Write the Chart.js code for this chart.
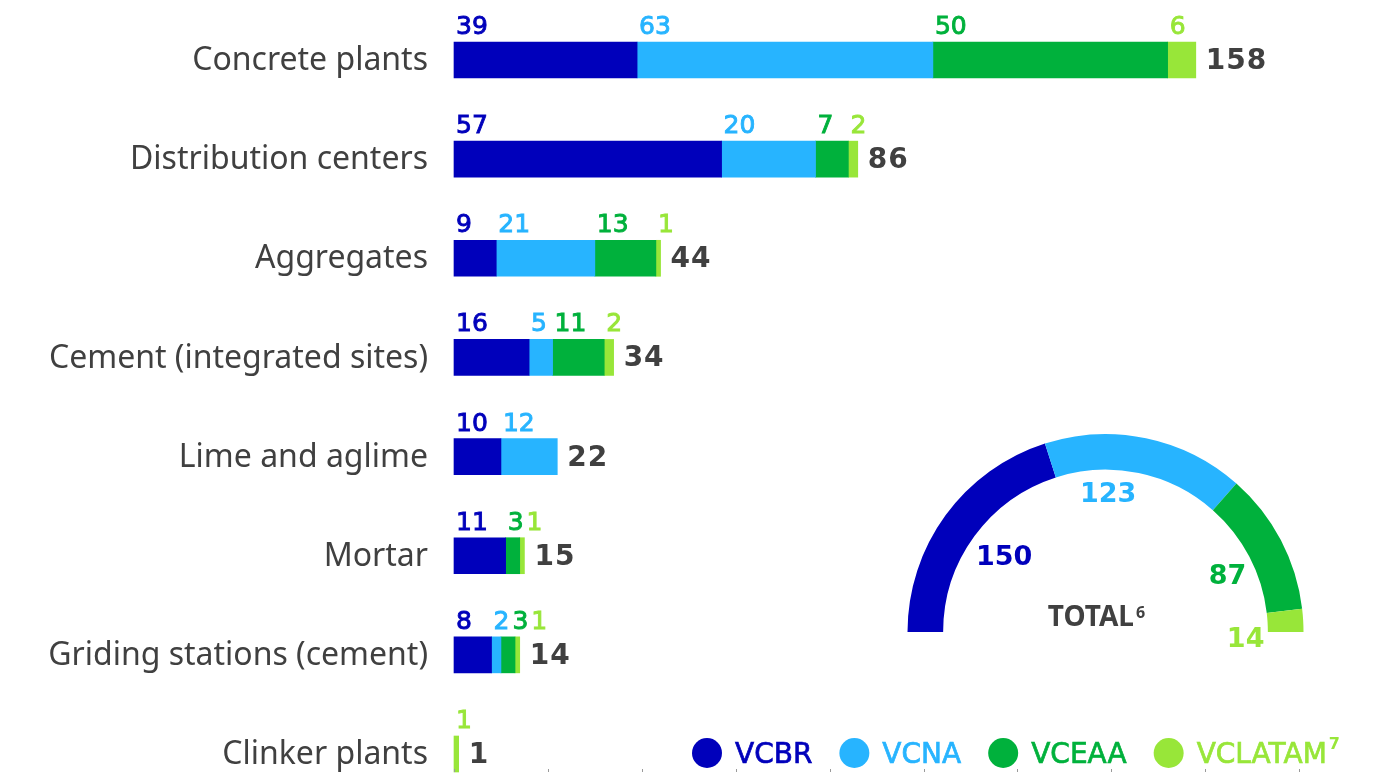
<!DOCTYPE html>
<html>
<head>
<meta charset="utf-8">
<script src="https://cdn.jsdelivr.net/npm/chart.js@4.4.1/dist/chart.umd.min.js"></script>
<style>
  html, body { margin: 0; padding: 0; background: #fff; overflow: hidden; }
  #wrap { position: relative; width: 1393px; height: 775px; }
  #barChart { position: absolute; left: 0; top: 0; }
  #totalChart { position: absolute; left: 660px; top: 413px; }
</style>
</head>
<body>
<div id="wrap">
  <canvas id="barChart" width="1393" height="775"></canvas>
  <canvas id="totalChart" width="733" height="362"></canvas>
</div>
<script>
// units per business line and region
const categories = [
    'Concrete plants',
    'Distribution centers',
    'Aggregates',
    'Cement (integrated sites)',
    'Lime and aglime',
    'Mortar',
    'Griding stations (cement)',
    'Clinker plants'
];
const regions = ['VCBR', 'VCNA', 'VCEAA', 'VCLATAM'];
const regionNotes = ['', '', '', '7'];

const vcbr    = [39, 57, 9, 16, 10, 11, 8, 0];
const vcna    = [63, 20, 21, 5, 12, 0, 2, 0];
const vceaa   = [50, 7, 13, 11, 0, 3, 3, 0];
const vclatam = [6, 2, 1, 2, 0, 1, 1, 1];

const regionTotals = [150, 123, 87, 14];
const totalTitle = 'TOTAL';
const totalNote = '6';

const xTicks = [0, 20, 40, 60, 80, 100, 120, 140, 160, 180, 200];

const colors = ['#0000bb', '#27b4ff', '#00b13c', '#98e639'];
const textGrey = '#404040';
const numFont = '"DejaVu Sans", sans-serif';

Chart.defaults.font.family = '"Noto Sans", sans-serif';
Chart.defaults.animation = false;

// value above each segment + total at the end of the row
const segmentLabels = {
    id: 'segmentLabels',
    afterDatasetsDraw(chart) {
        const ctx = chart.ctx;
        ctx.save();
        ctx.textAlign = 'left';
        ctx.textBaseline = 'alphabetic';
        ctx.lineWidth = 0.9;
        categories.forEach((_, i) => {
            let lastEnd = -Infinity;
            let stackEnd = 0;
            let rowY = 0;
            let total = 0;
            ctx.font = '25px ' + numFont;
            chart.data.datasets.forEach((ds, d) => {
                const v = ds.data[i];
                const bar = chart.getDatasetMeta(d).data[i];
                const p = bar.getProps(['x', 'y', 'base', 'height'], true);
                stackEnd = Math.max(stackEnd, p.x);
                rowY = p.y;
                total += v;
                if (!v) return;
                const txt = String(v);
                const tx = Math.max(p.base + 2, lastEnd + 3);
                const ty = p.y - p.height / 2 - 8;
                ctx.fillStyle = colors[d];
                ctx.strokeStyle = colors[d];
                ctx.fillText(txt, tx, ty);
                ctx.strokeText(txt, tx, ty);
                lastEnd = tx + ctx.measureText(txt).width;
            });
            ctx.font = 'bold 28px ' + numFont;
            ctx.fillStyle = textGrey;
            ctx.letterSpacing = '1px';
            ctx.fillText(String(total), stackEnd + 10, rowY + 9);
            ctx.letterSpacing = '0px';
        });

        // tiny tick marks under the last row
        const x = chart.scales.x;
        const yBase = chart.scales.y.getPixelForValue(categories.length - 1) + 15;
        ctx.strokeStyle = '#9a9a9a';
        ctx.lineWidth = 1;
        xTicks.forEach(t => {
            const px = Math.round(x.getPixelForValue(t)) + 0.5;
            ctx.beginPath();
            ctx.moveTo(px, yBase);
            ctx.lineTo(px, yBase + 3);
            ctx.stroke();
        });
        ctx.restore();
    }
};

new Chart(document.getElementById('barChart'), {
    type: 'bar',
    data: {
        labels: categories,
        datasets: [vcbr, vcna, vceaa, vclatam].map((values, k) => ({
            label: regions[k],
            data: values,
            backgroundColor: c => (c.raw ? colors[k] : 'rgba(0,0,0,0)'),
            borderWidth: 0,
            barThickness: 36,
            clip: false
        }))
    },
    options: {
        indexAxis: 'y',
        responsive: false,
        layout: { autoPadding: false, padding: { top: 60, bottom: 21, left: 0, right: 0 } },
        plugins: {
            legend: { display: false },
            tooltip: { enabled: false }
        },
        scales: {
            x: {
                display: false,
                stacked: true,
                min: 0,
                max: 200,
                ticks: { stepSize: 20 }
            },
            y: {
                stacked: true,
                offset: false,
                grid: { display: false, drawTicks: false },
                border: { display: false },
                ticks: {
                    autoSkip: false,
                    padding: 26,
                    labelOffset: 1,
                    color: textGrey,
                    font: { size: 32 }
                },
                afterFit(scale) {
                    scale.width = 454;
                    scale.paddingTop = 0;
                    scale.paddingBottom = 0;
                }
            }
        }
    },
    plugins: [segmentLabels]
});

// labels on the half ring, the TOTAL caption and the legend
const ringLabels = {
    id: 'ringLabels',
    afterDatasetsDraw(chart, args, opts) {
        const ctx = chart.ctx;
        const meta = chart.getDatasetMeta(0);
        ctx.save();
        ctx.font = 'bold 27px ' + numFont;
        ctx.textAlign = 'center';
        ctx.textBaseline = 'middle';
        let cx = 0, cy = 0;
        meta.data.forEach((arc, i) => {
            const p = arc.getProps(['x', 'y', 'startAngle', 'endAngle', 'innerRadius'], true);
            cx = p.x; cy = p.y;
            const mid = (p.startAngle + p.endAngle) / 2;
            const r = p.innerRadius - 37;
            const n = opts.nudge[i];
            ctx.fillStyle = colors[i];
            ctx.fillText(String(regionTotals[i]), p.x + Math.cos(mid) * r + n[0], p.y + Math.sin(mid) * r + n[1]);
        });

        // TOTAL with footnote
        ctx.textAlign = 'left';
        ctx.textBaseline = 'alphabetic';
        ctx.fillStyle = textGrey;
        ctx.font = 'bold 28px "Noto Sans"';
        const wMain = ctx.measureText(totalTitle).width;
        ctx.font = 'bold 16px "Noto Sans"';
        const wNote = ctx.measureText(totalNote).width;
        const left = cx - 9 - (wMain + 2 + wNote) / 2;
        ctx.font = 'bold 28px "Noto Sans"';
        ctx.fillText(totalTitle, left, cy - 6);
        ctx.font = 'bold 16px "Noto Sans"';
        ctx.fillText(totalNote, left + wMain + 2, cy - 14);

        // legend row
        let lx = opts.legendX;
        const ly = opts.legendY;
        ctx.lineWidth = 0.7;
        regions.forEach((name, i) => {
            ctx.fillStyle = colors[i];
            ctx.strokeStyle = colors[i];
            ctx.beginPath();
            ctx.arc(lx + 15, ly, 15, 0, Math.PI * 2);
            ctx.fill();
            ctx.font = '28px ' + numFont;
            const tx = lx + 30 + 13;
            ctx.fillText(name, tx, ly + 10);
            ctx.strokeText(name, tx, ly + 10);
            let w = ctx.measureText(name).width;
            if (regionNotes[i]) {
                ctx.font = 'bold 16px ' + numFont;
                ctx.fillText(regionNotes[i], tx + w + 2, ly - 4);
                w += 2 + ctx.measureText(regionNotes[i]).width;
            }
            lx = tx + w + 27;
        });
        ctx.restore();
    }
};

new Chart(document.getElementById('totalChart'), {
    type: 'doughnut',
    data: {
        labels: regions,
        datasets: [{
            data: regionTotals,
            backgroundColor: colors,
            borderWidth: 0
        }]
    },
    options: {
        responsive: false,
        rotation: -90,
        circumference: 180,
        radius: 198,
        cutout: '82%',
        layout: { padding: { left: 158, right: 0, top: 0, bottom: 122 } },
        plugins: {
            legend: { display: false },
            tooltip: { enabled: false },
            ringLabels: {
                nudge: [[0, 0], [-23, -14], [11, 3], [15, 15]],
                legendX: 32,
                legendY: 340
            }
        }
    },
    plugins: [ringLabels]
});
</script>
</body>
</html>
